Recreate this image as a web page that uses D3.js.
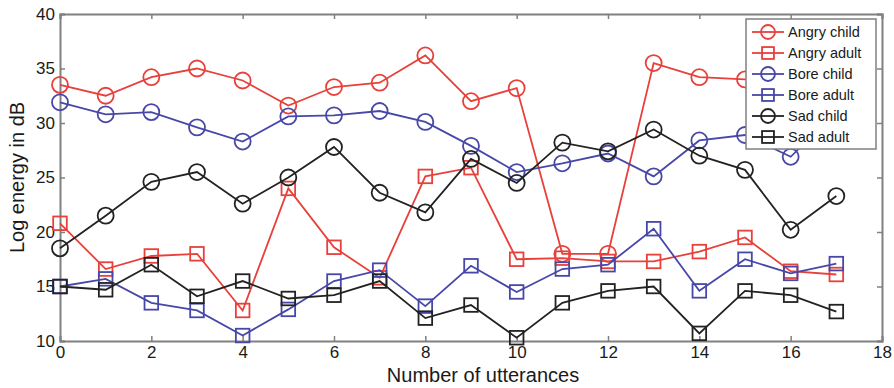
<!DOCTYPE html>
<html><head><meta charset="utf-8">
<script src="https://cdn.jsdelivr.net/npm/d3@7"></script>
<style>body{margin:0;background:#fff}svg{display:block}text{font-family:"Liberation Sans",Arial,sans-serif}</style>
</head><body><svg id="c" width="894" height="388"></svg>
<script>
const xValues = d3.range(0, 18);
const angryChild = [33.5,32.5,34.2,35.0,33.9,31.6,33.3,33.7,36.2,32.0,33.2,18.0,18.0,35.5,34.2,34.0,34.3,33.8];
const angryAdult = [20.8,16.6,17.8,18.0,12.8,24.0,18.6,15.8,25.1,25.9,17.5,17.6,17.3,17.3,18.2,19.5,16.4,16.1];
const boreChild  = [31.9,30.8,31.0,29.6,28.3,30.6,30.7,31.1,30.1,27.9,25.5,26.3,27.2,25.1,28.4,28.9,26.9,31.0];
const boreAdult  = [15.0,15.7,13.5,12.8,10.5,12.9,15.5,16.5,13.2,16.9,14.5,16.6,17.0,20.3,14.6,17.5,16.2,17.1];
const sadChild   = [18.5,21.5,24.6,25.5,22.6,25.0,27.8,23.6,21.8,26.7,24.5,28.2,27.4,29.4,27.0,25.7,20.2,23.3];
const sadAdult   = [15.0,14.7,17.0,14.1,15.5,13.9,14.2,15.5,12.1,13.3,10.3,13.5,14.6,15.0,10.7,14.6,14.2,12.7];
const seriesNames = ["Angry child","Angry adult","Bore child","Bore adult","Sad child","Sad adult"];
const xTicks = [0,2,4,6,8,10,12,14,16,18];
const yTicks = [10,15,20,25,30,35,40];
const xLabel = "Number of utterances";
const yLabel = "Log energy in dB";

const series = [
  {name: seriesNames[0], values: angryChild, color: "#e8403a", marker: "circle"},
  {name: seriesNames[1], values: angryAdult, color: "#e8403a", marker: "square"},
  {name: seriesNames[2], values: boreChild,  color: "#4747a8", marker: "circle"},
  {name: seriesNames[3], values: boreAdult,  color: "#4747a8", marker: "square"},
  {name: seriesNames[4], values: sadChild,   color: "#222222", marker: "circle"},
  {name: seriesNames[5], values: sadAdult,   color: "#222222", marker: "square"}
];

const L = 60, R = 882, T = 14, B = 341;
const x = d3.scaleLinear().domain([0,18]).range([L,R]);
const y = d3.scaleLinear().domain([10,40]).range([B,T]);
const svg = d3.select("#c");
const axisColor = "#808080";

const gx = svg.append("g").attr("transform", `translate(0,${B})`)
  .call(d3.axisBottom(x).tickValues(xTicks).tickSize(-5).tickPadding(5).tickFormat(d3.format("d")));
const gxt = svg.append("g").attr("transform", `translate(0,${T})`)
  .call(d3.axisTop(x).tickValues(xTicks).tickSize(-5).tickFormat(""));
const gy = svg.append("g").attr("transform", `translate(${L},0)`)
  .call(d3.axisLeft(y).tickValues(yTicks).tickSize(-5).tickPadding(8).tickFormat(d3.format("d")));
const gyr = svg.append("g").attr("transform", `translate(${R},0)`)
  .call(d3.axisRight(y).tickValues(yTicks).tickSize(-5).tickFormat(""));
[gx,gxt,gy,gyr].forEach(g => {
  g.select(".domain").attr("stroke", axisColor).attr("stroke-width", 2);
  g.selectAll(".tick line").attr("stroke", axisColor).attr("stroke-width", 1.5);
  g.selectAll(".tick text").attr("fill", "#1a1a1a").style("font-size", "17px")
   .style("font-family", '"Liberation Sans", Arial, sans-serif');
});
gy.selectAll(".tick text").attr("dx", 3);

svg.append("text").attr("x", 483).attr("y", 382).attr("text-anchor", "middle")
  .style("font-size", "20px").attr("fill", "#1a1a1a").text(xLabel);
svg.append("text").attr("transform", `translate(24,${(T+B)/2}) rotate(-90)`).attr("text-anchor", "middle")
  .style("font-size", "20px").attr("fill", "#1a1a1a").text(yLabel);

const line = d3.line().x((d,i) => x(xValues[i])).y(d => y(d));
function drawMarker(g, type, cx, cy, color, s) {
  if (type === "circle") {
    g.append("circle").attr("cx", cx).attr("cy", cy).attr("r", s)
      .attr("fill", "none").attr("stroke", color).attr("stroke-width", 1.8);
  } else {
    g.append("rect").attr("x", cx - s*0.85).attr("y", cy - s*0.85).attr("width", s*1.7).attr("height", s*1.7)
      .attr("fill", "none").attr("stroke", color).attr("stroke-width", 1.8);
  }
}
series.forEach(s => {
  const g = svg.append("g");
  g.append("path").datum(s.values).attr("d", line).attr("fill", "none")
    .attr("stroke", s.color).attr("stroke-width", 1.8);
  s.values.forEach((v,i) => drawMarker(g, s.marker, x(xValues[i]), y(v), s.color, 8));
});

const lg = svg.append("g");
lg.append("rect").attr("x", 746).attr("y", 19).attr("width", 130).attr("height", 130)
  .attr("fill", "#fff").attr("stroke", axisColor).attr("stroke-width", 1.5);
series.forEach((s,i) => {
  const cy = 32 + i*21;
  lg.append("line").attr("x1", 752).attr("x2", 784).attr("y1", cy).attr("y2", cy)
    .attr("stroke", s.color).attr("stroke-width", 1.8);
  drawMarker(lg, s.marker, 768, cy, s.color, 7);
  lg.append("text").attr("x", 788).attr("y", cy).attr("dy", "0.35em")
    .style("font-size", "14.5px").attr("fill", "#1a1a1a").text(s.name);
});
</script></body></html>
